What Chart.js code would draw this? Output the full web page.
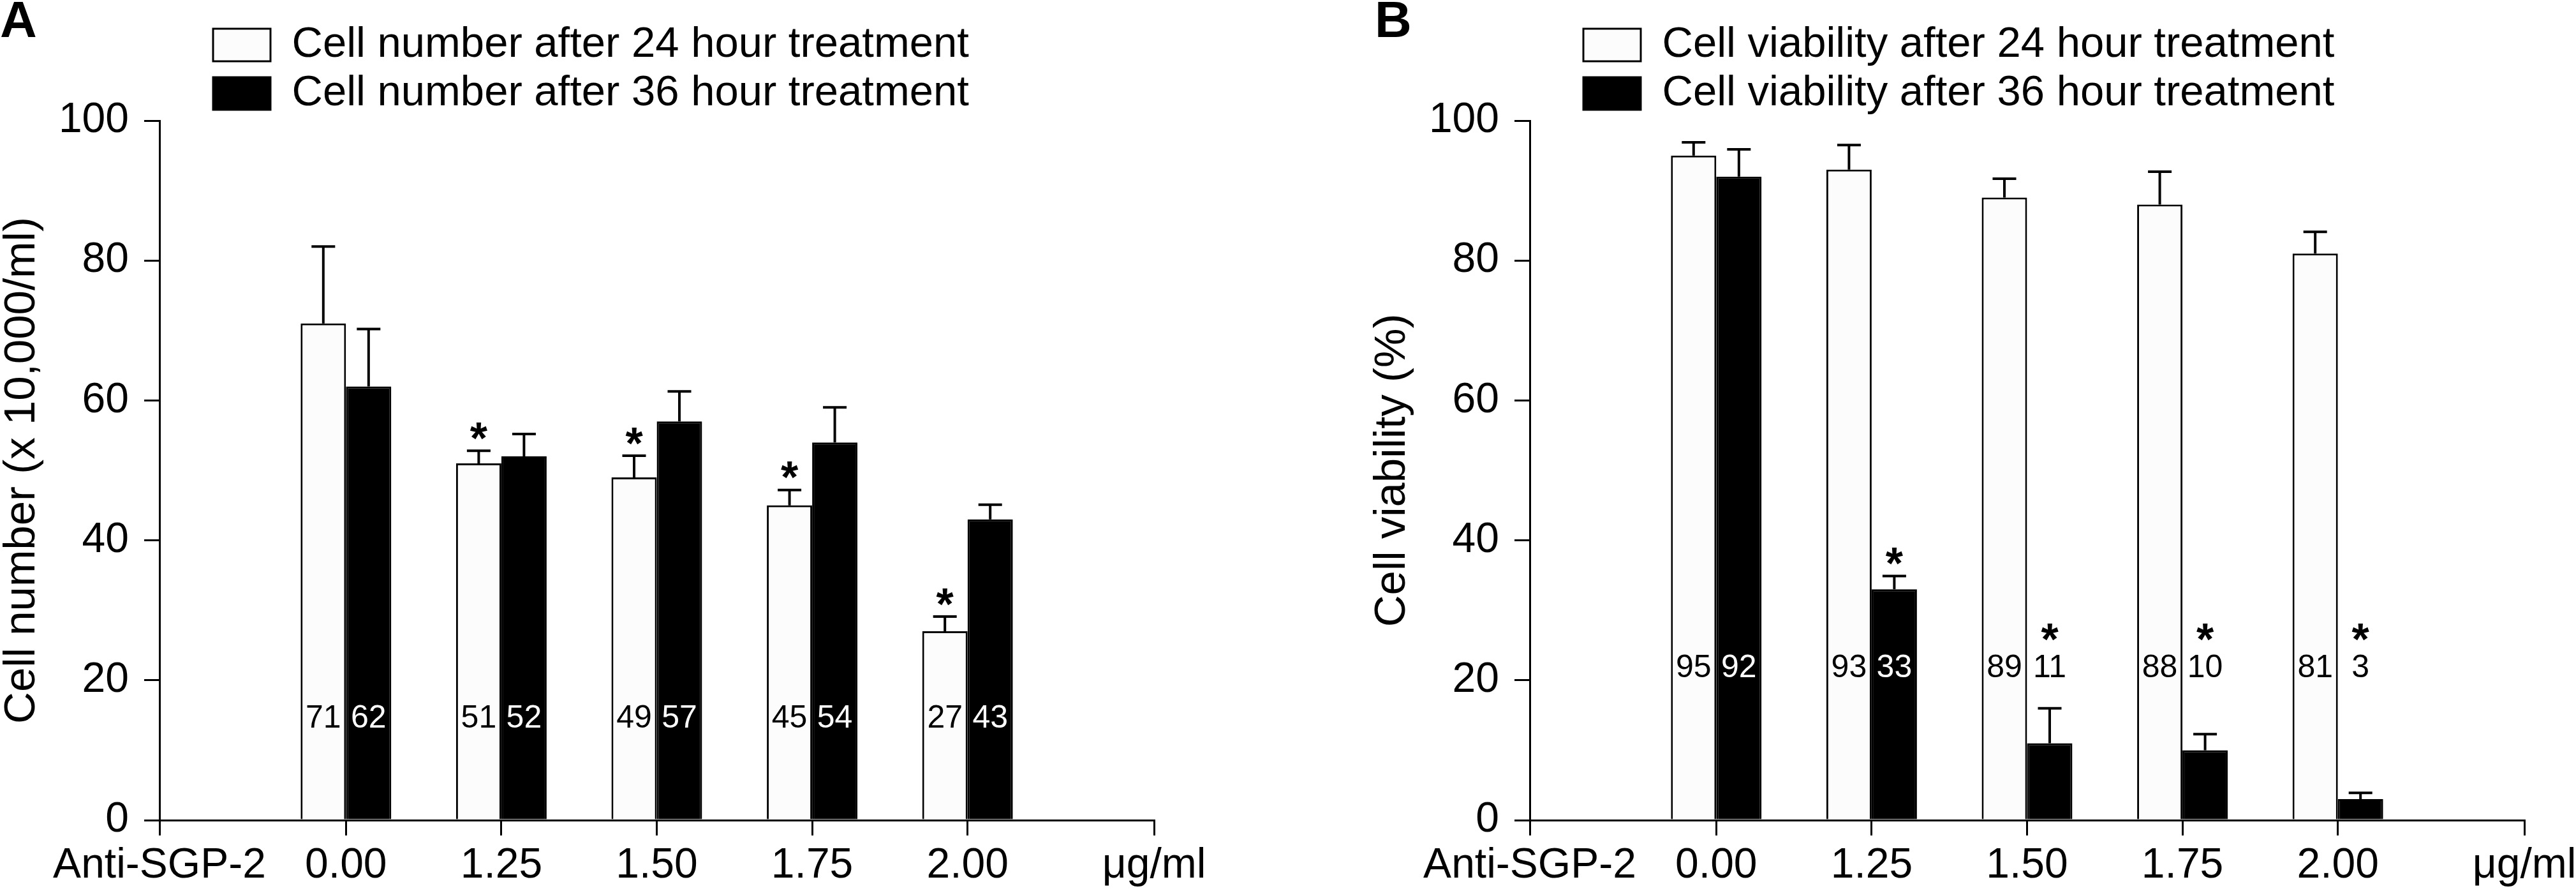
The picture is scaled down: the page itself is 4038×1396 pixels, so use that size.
<!DOCTYPE html>
<html>
<head>
<meta charset="utf-8">
<script src="https://cdn.jsdelivr.net/npm/chart.js@4.4.1/dist/chart.umd.min.js"></script>
<style>
html, body { margin: 0; padding: 0; background: #fff; overflow: hidden; width: 4038px; height: 1396px; }
canvas { position: absolute; top: 0; }
#chartA { left: 0; }
#chartB { left: 2148px; }
</style>
</head>
<body>
<canvas id="chartA" width="1890" height="1396"></canvas>
<canvas id="chartB" width="1890" height="1396"></canvas>
<script>
// ---------- data ----------
const doseLabels = ['0.00', '1.25', '1.50', '1.75', '2.00'];
const axisStartLabel = 'Anti-SGP-2';
const axisEndLabel = 'μg/ml';
const yTickValues = [0, 20, 40, 60, 80, 100];

const cellNumber24 = [71, 51, 49, 45, 27];
const cellNumber24Err = [11.0, 1.8, 3.1, 2.2, 2.1];
const cellNumber24Sig = [false, true, true, true, true];
const cellNumber36 = [62, 52, 57, 54, 43];
const cellNumber36Err = [8.2, 3.2, 4.3, 5.0, 2.1];
const cellNumber36Sig = [false, false, false, false, false];

const viability24 = [95, 93, 89, 88, 81];
const viability24Err = [1.9, 3.5, 2.7, 4.7, 3.1];
const viability24Sig = [false, false, false, false, false];
const viability36 = [92, 33, 11, 10, 3];
const viability36Err = [3.9, 1.9, 5.0, 2.3, 0.9];
const viability36Sig = [false, true, true, true, true];

const legendA = ['Cell number after 24 hour treatment', 'Cell number after 36 hour treatment'];
const legendB = ['Cell viability after 24 hour treatment', 'Cell viability after 36 hour treatment'];
const yTitleA = 'Cell number (x 10,000/ml)';
const yTitleB = 'Cell viability (%)';

// ---------- style ----------
const FONT = "'Liberation Sans', Arial, Helvetica, sans-serif";

const legendPlacer = {
  id: 'legendPlacer',
  afterLayout(chart, args, o) {
    const lg = chart.legend;
    if (!lg) return;
    const pad = lg.options.labels.padding;
    lg.left = o.left - pad;
    lg.top = o.rowTop - pad;
    lg.bottom = lg.top + lg.height;
  }
};

const barAnnotations = {
  id: 'barAnnotations',
  afterDatasetsDraw(chart, args, o) {
    const ctx = chart.ctx;
    const ys = chart.scales.y;
    ctx.save();
    chart.data.datasets.forEach((ds, di) => {
      const meta = chart.getDatasetMeta(di);
      meta.data.forEach((bar, i) => {
        const v = ds.data[i].y;
        const e = ds.errors[i];
        const yTop = ys.getPixelForValue(v + e);
        // error bar (upper)
        ctx.strokeStyle = '#000';
        ctx.lineWidth = o.errWidth;
        ctx.beginPath();
        ctx.moveTo(bar.x, bar.y);
        ctx.lineTo(bar.x, yTop);
        ctx.moveTo(bar.x - o.capHalf, yTop);
        ctx.lineTo(bar.x + o.capHalf, yTop);
        ctx.stroke();
        // value label
        const ly = ys.getPixelForValue(o.labelLevel);
        ctx.font = o.labelSize + 'px ' + FONT;
        ctx.textAlign = 'center';
        ctx.textBaseline = 'middle';
        ctx.fillStyle = (ds.dark && bar.y < ly - 25) ? '#fff' : '#000';
        ctx.fillText(String(v), bar.x, ly);
        // significance marker
        if (ds.sig[i]) {
          const cy = Math.min(yTop - 36, ly - 62);
          ctx.font = 'bold ' + o.starSize + 'px ' + FONT;
          ctx.textBaseline = 'alphabetic';
          ctx.fillStyle = '#000';
          ctx.fillText('*', bar.x, cy + 0.58 * o.starSize);
        }
      });
    });
    ctx.restore();
  }
};

const panelLetter = {
  id: 'panelLetter',
  afterDraw(chart, args, o) {
    const ctx = chart.ctx;
    ctx.save();
    ctx.font = 'bold ' + o.size + 'px ' + FONT;
    ctx.fillStyle = '#000';
    ctx.textAlign = 'left';
    ctx.textBaseline = 'alphabetic';
    ctx.fillText(o.text, o.x, o.y);
    ctx.restore();
  }
};

function makeChart(id, p) {
  const pts = arr => arr.map((v, i) => ({ x: i, y: v }));
  const axisLine = { display: true, color: '#000', width: 3 };
  const gridStyle = { offset: false, drawOnChartArea: false, drawTicks: true, tickLength: 24, color: '#000', lineWidth: 3 };
  return new Chart(document.getElementById(id), {
    type: 'bar',
    data: {
      datasets: [
        { label: p.legend[0], data: pts(p.s24), errors: p.e24, sig: p.sig24,
          backgroundColor: '#fcfcfc', borderColor: '#000', borderWidth: 3, dark: false },
        { label: p.legend[1], data: pts(p.s36), errors: p.e36, sig: p.sig36,
          backgroundColor: '#000', borderColor: '#000', borderWidth: 3, dark: true }
      ]
    },
    options: {
      responsive: false,
      animation: false,
      events: [],
      layout: { padding: { top: 27, right: 81, bottom: 0, left: 0 } },
      datasets: { bar: { categoryPercentage: 0.583, barPercentage: 1 } },
      scales: {
        x: {
          type: 'linear', min: -1.2, max: 5.2, offset: false, bounds: 'data',
          grid: gridStyle,
          border: axisLine,
          afterBuildTicks: s => {
            s.ticks = [-1.2].concat(doseLabels.map((d, i) => i), [5.2]).map(v => ({ value: v }));
          },
          afterFit: s => { s.paddingRight = 0; s.height = 111; },
          ticks: {
            autoSkip: false, maxRotation: 0, minRotation: 0, padding: 8, color: '#000',
            font: { family: FONT, size: 66 },
            callback: v => v < 0 ? axisStartLabel : (v > doseLabels.length - 1 ? axisEndLabel : doseLabels[Math.round(v)])
          }
        },
        y: {
          min: 0, max: 100,
          afterBuildTicks: s => { s.ticks = yTickValues.map(v => ({ value: v })); },
          afterFit: s => { s.width = 250; },
          grid: gridStyle,
          border: axisLine,
          ticks: { padding: 24, color: '#000', font: { family: FONT, size: 66 } },
          title: { display: true, text: p.yTitle, color: '#000',
                   font: { family: FONT, size: 69, lineHeight: 1 }, padding: { top: 0, bottom: 0 } }
        }
      },
      plugins: {
        legend: {
          display: true, position: 'top', align: 'start',
          labels: { boxWidth: 90, boxHeight: 51, padding: 9, color: '#000', font: { family: FONT, size: 67 } }
        },
        tooltip: { enabled: false },
        legendPlacer: { left: 334, rowTop: 37 },
        barAnnotations: { labelLevel: p.labelLevel, labelSize: 50, starSize: 70, errWidth: 4, capHalf: 18.5 },
        panelLetter: { text: p.letter, x: p.letterX, y: 58, size: 80 }
      }
    },
    plugins: [legendPlacer, barAnnotations, panelLetter]
  });
}

makeChart('chartA', {
  legend: legendA, yTitle: yTitleA, letter: 'A', letterX: 0, labelLevel: 14.5,
  s24: cellNumber24, e24: cellNumber24Err, sig24: cellNumber24Sig,
  s36: cellNumber36, e36: cellNumber36Err, sig36: cellNumber36Sig
});
makeChart('chartB', {
  legend: legendB, yTitle: yTitleB, letter: 'B', letterX: 7, labelLevel: 21.7,
  s24: viability24, e24: viability24Err, sig24: viability24Sig,
  s36: viability36, e36: viability36Err, sig36: viability36Sig
});
</script>
</body>
</html>
